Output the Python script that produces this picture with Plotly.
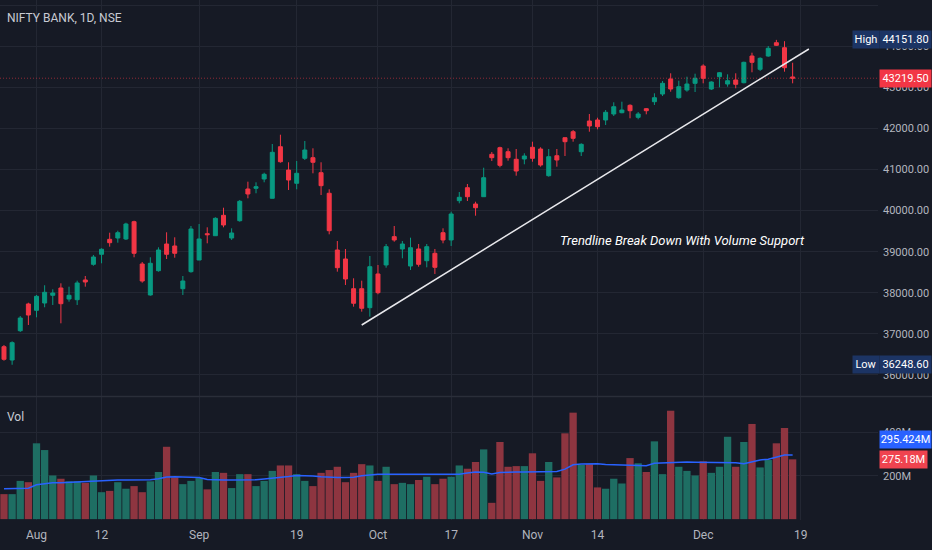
import plotly.graph_objects as go

dates = ["2022-07-26","2022-07-27","2022-07-28","2022-07-29","2022-08-01","2022-08-02","2022-08-03","2022-08-04","2022-08-05","2022-08-08",
         "2022-08-10","2022-08-11","2022-08-12","2022-08-16","2022-08-17","2022-08-18","2022-08-19","2022-08-22","2022-08-23","2022-08-24",
         "2022-08-25","2022-08-26","2022-08-29","2022-08-30","2022-09-01","2022-09-02","2022-09-05","2022-09-06","2022-09-07","2022-09-08",
         "2022-09-09","2022-09-12","2022-09-13","2022-09-14","2022-09-15","2022-09-16","2022-09-19","2022-09-20","2022-09-21","2022-09-22",
         "2022-09-23","2022-09-26","2022-09-27","2022-09-28","2022-09-29","2022-09-30","2022-10-03","2022-10-04","2022-10-06","2022-10-07",
         "2022-10-10","2022-10-11","2022-10-12","2022-10-13","2022-10-14","2022-10-17","2022-10-18","2022-10-19","2022-10-20","2022-10-21",
         "2022-10-24","2022-10-25","2022-10-27","2022-10-28","2022-10-31","2022-11-01","2022-11-02","2022-11-03","2022-11-04","2022-11-07",
         "2022-11-09","2022-11-10","2022-11-11","2022-11-14","2022-11-15","2022-11-16","2022-11-17","2022-11-18","2022-11-21","2022-11-22",
         "2022-11-23","2022-11-24","2022-11-25","2022-11-28","2022-11-29","2022-11-30","2022-12-01","2022-12-02","2022-12-05","2022-12-06",
         "2022-12-07","2022-12-08","2022-12-09","2022-12-12","2022-12-13","2022-12-14","2022-12-15","2022-12-16"]
future_dates = ["2022-12-19", "2022-12-20"]

open_ = [36688,36364,37077,37727,37573,37751,37938,38116,37848,37831,
         38311,38692,38936,39300,39332,39308,39729,38700,37946,38537,
         39186,39138,38099,38513,38797,39437,39388,39884,39332,39753,
         40524,40541,40767,40298,41553,40986,40663,41271,41286,40921,
         40420,39040,38821,38099,38099,37637,38457,38676,39365,39065,
         38651,39065,38780,38960,39461,39284,40240,40556,40159,40337,
         41368,41529,41431,41247,41254,41539,41497,40848,41334,41772,
         41918,41431,42178,42203,42203,42349,42380,42560,42268,42478,
         42648,42835,43200,42745,42932,43095,43516,42957,43256,43078,
         43176,43110,43759,43436,43759,44083,43961,43250]
high = [36730,36819,37435,37758,37946,38182,38084,38230,38148,38294,
        38408,38919,39082,39461,39510,39704,39753,38748,38863,39106,
        39471,39349,38408,39624,39673,39592,39836,40069,39568,40257,
        40702,40687,40921,41619,41845,41174,41206,41692,41514,41174,
        40517,39259,39065,38352,38294,38894,38676,39186,39624,39259,
        39340,39186,39186,39065,39568,39972,40451,40646,40215,41042,
        41424,41553,41514,41497,41393,41675,41539,41497,41497,41782,
        41959,41636,42349,42259,42446,42633,42648,42585,42397,42495,
        42852,43151,43339,43159,43256,43329,43558,43144,43370,43314,
        43339,43621,43840,43728,44003,44151.8,44120,43596]
low = [36347,36248.6,37046,37216,37403,37647,37703,37257,37783,37703,
       38148,38658,38717,39121,39218,39284,38863,38245,37929,38513,
       38821,38853,37946,38488,38797,39203,39381,39592,39284,39729,
       40298,40420,40687,40298,41164,40500,40517,41230,40906,40378,
       39422,38513,38189,37661,37540,37418,37963,38610,39242,38838,
       38554,38634,38619,38457,39203,39138,40176,40232,39875,40337,
       41205,41052,41213,40848,41125,41188,41067,40824,41067,41327,
       41675,41327,41918,41976,42081,42300,42366,42244,42220,42341,
       42568,42786,42891,42721,42891,42884,43095,42932,42998,43013,
       42974,43095,43363,43395,43742,44003,43378,43095]
close = [36381,36786,37386,37459,37914,38011,37994,37734,37938,38238,
         38262,38870,39058,39218,39461,39673,38960,38286,38717,39040,
         38936,38960,38286,39551,39308,39413,39811,39649,39454,40225,
         40403,40580,40882,41417,41188,40743,40906,41473,41174,40605,
         39510,38610,38335,37744,37622,38634,38002,39121,39284,39186,
         39096,38692,39121,38619,39284,39916,40322,40337,40069,40799,
         41286,41100,41286,40962,41327,41271,41108,41310,41230,41675,
         41757,41611,42057,42040,42390,42526,42446,42429,42349,42429,
         42745,43095,42957,43013,43078,43217,43217,43127,43353,43159,
         43071,43606,43606,43703,43947,44020,43475,43219.5]
volume_m = [115,115,176,170,349,318,201,186,174,174,
            167,201,124,130,170,140,152,124,174,217,
            333,192,161,176,189,137,217,213,143,207,
            207,152,176,222,247,247,207,176,152,213,
            226,241,170,213,253,247,176,241,161,167,
            161,180,195,161,186,195,247,232,263,321,
            75,355,241,244,244,303,176,263,192,395,
            490,250,253,146,140,186,164,281,257,217,
            358,207,499,241,222,201,266,213,241,379,
            241,355,438,238,272,349,419,275.18]
volume_ma_m = [140,140,140,142,158,163,167,168,170,172,
               175,176,178,180,180,180,180,180,181,186,
               194,195,195,195,192,182,180,180,180,180,
               180,181,185,188,192,196,201,201,199,195,
               192,192,192,193,200,205,207,207,207,207,
               207,207,207,207,207,207,207,212,217,216,
               208,215,217,217,217,217,217,218,219,230,
               250,254,255,255,252,251,250,250,250,246,
               257,259,262,263,263,262,262,263,263,263,
               260,255,265,272,276,284,295,295.424]

tick_dates = ["2022-08-01","2022-08-12","2022-09-01","2022-09-19","2022-10-03",
              "2022-10-17","2022-11-01","2022-11-14","2022-12-01","2022-12-19"]
tick_text = ["Aug","12","Sep","19","Oct","17","Nov","14","Dec","19"]
price_ticks = [36000,37000,38000,39000,40000,41000,42000,43000,44000,45000]
vol_ticks = [200,400]
vol_tick_text = ["200M","400M"]

title_text = "NIFTY BANK, 1D, NSE"
note_text = "Trendline Break Down With Volume Support"
trend_from = ("2022-09-29", 37216)
trend_to = ("2022-12-20", 43930)

all_dates = dates + future_dates
xi = list(range(len(dates)))
pos = {d: i for i, d in enumerate(all_dates)}
tickvals = [pos[d] for d in tick_dates]

BG = "#161A25"
GRID = "#232733"
TXT = "#B2B5BE"
UP = "#089981"
DN = "#F23645"
VUP = "#1E6E63"
VDN = "#8E3540"
FONT = "Roboto, sans-serif"

vol_colors = [VUP if c >= o else VDN for o, c in zip(open_, close)]

fig = go.Figure()
fig.add_trace(go.Candlestick(
    x=xi, open=open_, high=high, low=low, close=close,
    increasing=dict(line=dict(color=UP, width=1), fillcolor=UP),
    decreasing=dict(line=dict(color=DN, width=1), fillcolor=DN),
    whiskerwidth=0, xaxis="x", yaxis="y", showlegend=False, hoverinfo="skip"))
fig.add_trace(go.Bar(x=xi, y=volume_m, marker=dict(color=vol_colors, line=dict(width=0)),
                     xaxis="x2", yaxis="y2", showlegend=False, hoverinfo="skip"))
fig.add_trace(go.Scatter(x=xi, y=volume_ma_m, mode="lines", line=dict(color="#2962FF", width=1.5),
                         xaxis="x2", yaxis="y2", showlegend=False, hoverinfo="skip"))

xr = [-0.49, 107.5]
y_dom_main = [0.2385, 1.0]
y_dom_vol = [0.0, 0.2365]

axis_common = dict(showline=False, zeroline=False, ticks="", color=TXT)
fig.update_layout(
    width=932, height=550,
    margin=dict(l=0, r=54, t=0, b=30),
    paper_bgcolor=BG, plot_bgcolor=BG,
    font=dict(family=FONT, size=12, color=TXT),
    bargap=0.1,
    xaxis=dict(domain=[0, 1], range=xr, anchor="y", tickmode="array", tickvals=tickvals,
               showticklabels=False, showgrid=True, gridcolor=GRID, gridwidth=1,
               rangeslider=dict(visible=False), **axis_common),
    xaxis2=dict(domain=[0, 1], range=xr, anchor="y2", matches="x", tickmode="array",
                tickvals=tickvals, ticktext=tick_text, showgrid=True, gridcolor=GRID,
                tickfont=dict(size=12, color=TXT), ticklabelstandoff=6, **axis_common),
    yaxis=dict(domain=y_dom_main, range=[35489, 45122], side="right", anchor="x",
               tickmode="array", tickvals=price_ticks, tickformat=".2f",
               showgrid=True, gridcolor=GRID, tickfont=dict(size=11, color=TXT),
               ticklabelstandoff=4, **axis_common),
    yaxis2=dict(domain=y_dom_vol, range=[-4, 562], side="right", anchor="x2",
                tickmode="array", tickvals=vol_ticks, ticktext=vol_tick_text,
                showgrid=True, gridcolor=GRID, tickfont=dict(size=11, color=TXT),
                ticklabelstandoff=4, **axis_common),
)

shapes = []
shapes.append(dict(type="line", xref="paper", yref="paper", x0=0, x1=1.062, y0=0.2375, y1=0.2375,
                   line=dict(color="#2A2E39", width=1.5)))
shapes.append(dict(type="line", xref="paper", yref="y", x0=0, x1=1, y0=close[-1], y1=close[-1],
                   line=dict(color="rgba(242,54,69,0.55)", width=1, dash="1px,2px")))
shapes.append(dict(type="line", xref="x", yref="y", x0=pos[trend_from[0]], y0=trend_from[1],
                   x1=pos[trend_to[0]], y1=trend_to[1], line=dict(color="#E8E8EC", width=1.5)))
fig.update_layout(shapes=shapes)

ann = []
ann.append(dict(text=title_text, xref="paper", yref="paper", x=0.006, y=1 - 18/520, xanchor="left",
                yanchor="middle", showarrow=False, font=dict(size=12, color="#C8CBD3", family=FONT)))
ann.append(dict(text="Vol", xref="paper", yref="paper", x=0.006, y=(520-417)/520, xanchor="left",
                yanchor="middle", showarrow=False, font=dict(size=12, color="#C8CBD3", family=FONT)))
ann.append(dict(text="<i>" + note_text + "</i>", xref="x", yref="y", x=83.5, y=39283,
                xanchor="center", yanchor="middle", showarrow=False,
                font=dict(size=13, color="#FFFFFF", family=FONT)))

def box(text, yref, yval, bg, x, w, yshift=0, color="#FFFFFF"):
    return dict(text=text, xref="paper", yref=yref, x=x, y=yval, xanchor="left", yanchor="middle",
                showarrow=False, bgcolor=bg, width=w, height=15, align="center", borderpad=1,
                yshift=yshift, font=dict(size=11, color=color, family=FONT))

xpx = lambda px: px / 878.0
hi_v = max(high)
lo_v = min(low)
ann.append(box("High", "y", hi_v, "#1C3464", xpx(852), 24))
ann.append(box(f"{hi_v:.2f}", "y", hi_v, "#1C3464", xpx(879), 49))
ann.append(box("Low", "y", lo_v, "#1C3464", xpx(852), 24))
ann.append(box(f"{lo_v:.2f}", "y", lo_v, "#1C3464", xpx(879), 49))
ann.append(box(f"{close[-1]:.2f}", "y", close[-1], DN, xpx(879), 49))
ann.append(box(f"{volume_ma_m[-1]:.3f}M", "y2", volume_ma_m[-1], "#2962FF", xpx(879), 49, yshift=15))
ann.append(box(f"{volume_m[-1]:.2f}M", "y2", volume_m[-1], "#F0434F", xpx(879), 45))
fig.update_layout(annotations=ann)

fig.write_html("out.html", config={"displayModeBar": False},
               post_script="document.body.style.margin='0';")
